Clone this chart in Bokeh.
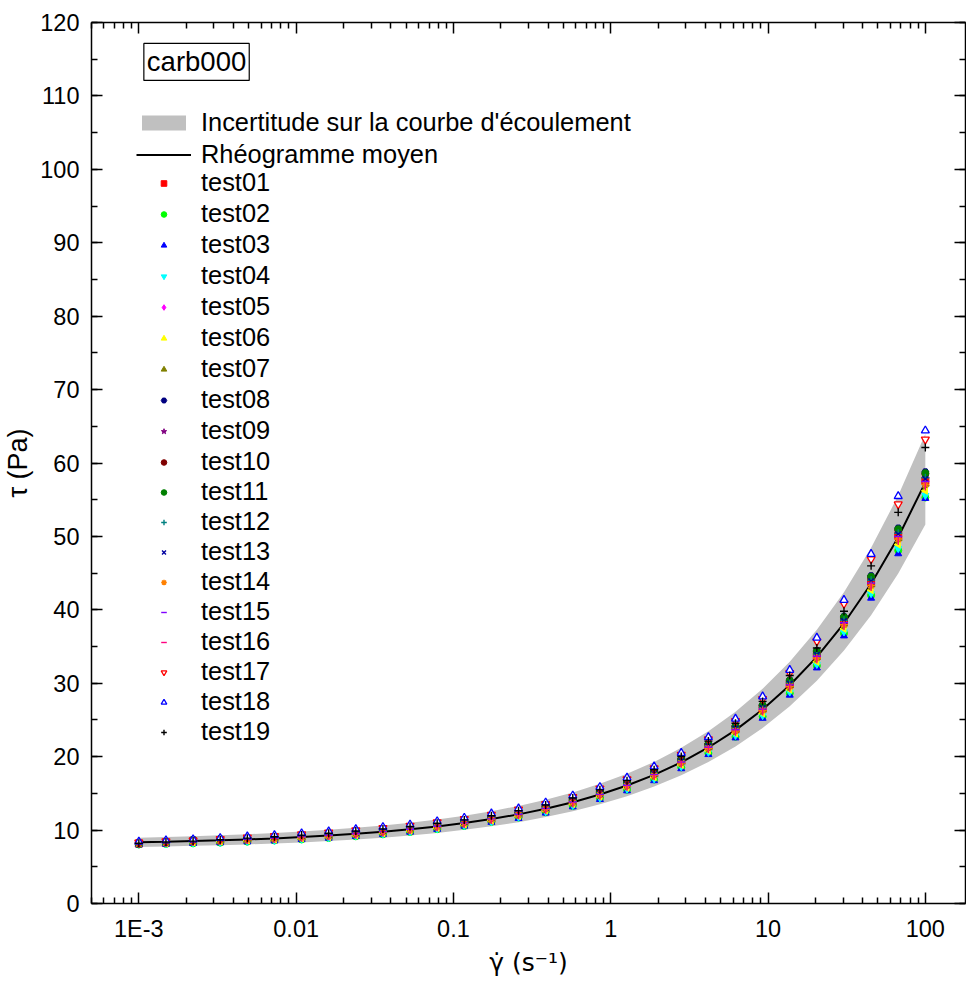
import math
from bokeh.plotting import figure
from bokeh.models import (Range1d, LinearAxis, LogAxis, FixedTicker, SingleIntervalTicker,
                          CustomJSTickFormatter, Legend, LegendItem, Label)
from bokeh.embed import file_html
from bokeh.resources import INLINE

# ---------------- data ----------------
shear_rate = [0.001, 0.001487, 0.002212, 0.00329, 0.004894, 0.007279, 0.01083, 0.0161, 0.02395,
              0.03562, 0.05298, 0.0788, 0.1172, 0.1743, 0.2593, 0.3857, 0.5736, 0.8532, 1.269,
              1.887, 2.807, 4.175, 6.21, 9.237, 13.74, 20.43, 30.39, 45.2, 67.23, 100.0]

mean_curve = [8.33, 8.41, 8.50, 8.60, 8.73, 8.87, 9.05, 9.25, 9.49, 9.77, 10.10, 10.50, 10.96, 11.50,
              12.14, 12.90, 13.79, 14.84, 16.07, 17.52, 19.23, 21.25, 23.62, 26.42, 29.72, 33.60,
              38.17, 43.55, 49.89, 57.36]
band_upper = [8.95, 9.05, 9.16, 9.28, 9.43, 9.60, 9.80, 10.03, 10.31, 10.62, 11.00, 11.45, 11.96, 12.57,
              13.29, 14.13, 15.13, 16.30, 17.67, 19.29, 21.20, 23.46, 26.11, 29.24, 32.93, 37.28,
              42.40, 48.44, 55.56, 63.96]
band_lower = [7.70, 7.77, 7.85, 7.93, 8.05, 8.17, 8.32, 8.50, 8.71, 8.96, 9.26, 9.61, 10.03, 10.51,
              11.08, 11.77, 12.57, 13.51, 14.62, 15.92, 17.46, 19.27, 21.40, 23.92, 26.88, 30.35,
              34.45, 39.27, 44.95, 51.62]

test01 = [8.16, 8.28, 8.47, 8.60, 8.75, 8.90, 9.08, 9.28, 9.53, 9.81, 10.14, 10.54, 11.00, 11.55, 12.19, 12.95, 13.85, 14.90, 16.13, 17.59, 19.31, 21.34, 23.71, 26.53, 29.84, 33.73, 38.32, 43.72, 50.09, 57.59]
test02 = [8.03, 8.11, 8.19, 8.29, 8.42, 8.58, 8.72, 8.92, 9.15, 9.42, 9.74, 10.12, 10.57, 11.12, 11.70, 12.44, 13.29, 14.31, 15.49, 16.89, 18.54, 20.48, 22.71, 25.47, 28.65, 32.39, 36.80, 41.98, 48.09, 55.30]
test03 = [8.01, 8.09, 8.18, 8.27, 8.40, 8.53, 8.71, 8.90, 9.13, 9.40, 9.72, 10.10, 10.54, 11.06, 11.59, 12.32, 13.17, 14.17, 15.35, 16.73, 18.36, 20.29, 22.56, 25.23, 28.38, 32.09, 36.45, 41.59, 47.64, 55.18]
test04 = [8.07, 8.15, 8.24, 8.33, 8.46, 8.60, 8.77, 8.96, 9.20, 9.47, 9.79, 10.17, 10.62, 11.14, 11.76, 12.50, 13.36, 14.38, 15.57, 16.98, 18.63, 20.59, 22.89, 25.60, 28.80, 32.56, 36.99, 42.20, 48.34, 55.58]
test05 = [8.23, 8.31, 8.40, 8.50, 8.63, 8.76, 8.94, 9.14, 9.38, 9.65, 9.98, 10.37, 10.83, 11.36, 11.99, 12.75, 13.62, 14.66, 15.88, 17.31, 19.00, 20.99, 23.34, 26.10, 29.36, 33.20, 37.71, 43.03, 49.29, 56.67]
test06 = [8.16, 8.24, 8.33, 8.43, 8.56, 8.69, 8.87, 9.06, 9.30, 9.57, 9.90, 10.29, 10.74, 11.27, 11.90, 12.64, 13.51, 14.54, 15.75, 17.17, 18.85, 20.82, 23.15, 25.89, 29.13, 32.93, 37.41, 42.68, 48.89, 56.21]
test07 = [8.26, 8.34, 8.43, 8.53, 8.66, 8.80, 8.98, 9.18, 9.41, 9.69, 10.02, 10.42, 10.87, 11.41, 12.04, 12.80, 13.68, 14.72, 15.94, 17.38, 19.08, 21.08, 23.43, 26.21, 29.48, 33.33, 37.86, 43.20, 49.49, 56.90]
test08 = [8.25, 8.33, 8.71, 8.82, 8.95, 9.09, 9.28, 9.48, 9.73, 10.01, 10.35, 10.76, 11.23, 11.79, 12.44, 13.22, 14.13, 15.21, 16.47, 17.96, 19.71, 21.78, 24.21, 27.08, 30.46, 34.44, 39.12, 44.64, 51.14, 58.79]
test09 = [8.20, 8.36, 8.49, 8.59, 8.72, 8.86, 9.04, 9.24, 9.48, 9.76, 10.09, 10.49, 10.95, 11.49, 12.13, 12.89, 13.78, 14.82, 16.05, 17.50, 19.21, 21.23, 23.60, 26.39, 29.69, 33.57, 38.13, 43.51, 49.84, 57.30]
test10 = [8.30, 8.45, 8.67, 8.77, 8.90, 9.05, 9.23, 9.44, 9.68, 9.97, 10.30, 10.71, 11.18, 11.73, 12.38, 13.16, 14.07, 15.14, 16.39, 17.87, 19.61, 21.68, 24.09, 26.95, 30.31, 34.27, 38.93, 44.42, 50.89, 58.51]
test11 = [8.12, 8.30, 8.69, 8.79, 8.92, 9.07, 9.25, 9.45, 9.70, 9.98, 10.32, 10.73, 11.20, 11.75, 12.41, 13.18, 14.09, 15.17, 16.42, 17.91, 19.65, 21.72, 24.14, 27.00, 30.37, 34.34, 39.01, 44.51, 50.99, 58.62]
test12 = [8.18, 8.37, 8.59, 8.69, 8.83, 8.97, 9.15, 9.35, 9.59, 9.88, 10.21, 10.62, 11.08, 11.63, 12.27, 13.04, 13.94, 15.00, 16.25, 17.71, 19.44, 21.48, 23.88, 26.71, 30.05, 33.97, 38.59, 44.03, 50.44, 57.99]
test13 = [8.05, 8.22, 8.57, 8.67, 8.80, 8.94, 9.12, 9.32, 9.57, 9.85, 10.18, 10.58, 11.05, 11.59, 12.24, 13.00, 13.90, 14.96, 16.20, 17.66, 19.38, 21.42, 23.81, 26.63, 29.96, 33.87, 38.48, 43.90, 50.29, 57.82]
test14 = [8.10, 8.26, 8.46, 8.56, 8.69, 8.83, 9.00, 9.20, 9.44, 9.72, 10.05, 10.45, 10.91, 11.44, 12.08, 12.84, 13.72, 14.77, 15.99, 17.43, 19.13, 21.14, 23.50, 26.29, 29.57, 33.43, 37.98, 43.33, 49.64, 57.07]
test15 = [8.28, 8.40, 8.52, 8.62, 8.75, 8.89, 9.07, 9.27, 9.51, 9.79, 10.12, 10.52, 10.98, 11.52, 12.16, 12.93, 13.82, 14.87, 16.10, 17.56, 19.27, 21.29, 23.67, 26.47, 29.78, 33.67, 38.25, 43.64, 49.99, 57.47]
test16 = [8.14, 8.29, 8.42, 8.51, 8.64, 8.78, 8.96, 9.16, 9.40, 9.67, 10.00, 10.40, 10.85, 11.39, 12.02, 12.77, 13.65, 14.69, 15.91, 17.35, 19.04, 21.04, 23.38, 26.16, 29.42, 33.26, 37.79, 43.11, 49.39, 56.79]
test17 = [8.31, 8.47, 8.60, 8.79, 9.01, 9.20, 9.43, 9.68, 9.98, 10.28, 10.61, 11.06, 11.52, 12.10, 12.80, 13.57, 14.52, 15.66, 16.92, 18.43, 20.25, 22.38, 24.85, 27.85, 31.41, 35.72, 40.84, 46.90, 54.38, 63.21]
test18 = [8.41, 8.58, 8.71, 8.90, 9.12, 9.31, 9.55, 9.81, 10.11, 10.41, 10.74, 11.19, 11.66, 12.25, 12.95, 13.74, 14.70, 15.85, 17.13, 18.66, 20.50, 22.65, 25.16, 28.19, 31.80, 36.19, 41.34, 47.60, 55.48, 64.41]
test19 = [8.20, 8.37, 8.50, 8.69, 8.90, 9.09, 9.32, 9.57, 9.87, 10.16, 10.48, 10.93, 11.39, 11.96, 12.65, 13.42, 14.36, 15.48, 16.73, 18.22, 20.02, 22.12, 24.56, 27.53, 31.06, 34.81, 39.81, 45.99, 53.28, 62.12]

test_names = ["test%02d" % k for k in range(1, 20)]
test_values = [test01, test02, test03, test04, test05, test06, test07, test08, test09, test10,
               test11, test12, test13, test14, test15, test16, test17, test18, test19]

x_tick_values = [0.001, 0.01, 0.1, 1, 10, 100]
x_tick_labels = ["1E-3", "0.01", "0.1", "1", "10", "100"]
x_minor_ticks = [m * 10.0 ** e for e in range(-4, 2) for m in range(2, 10) if 5e-4 <= m * 10.0 ** e <= 180]

# ---------------- styles ----------------
# (marker, color, fill mode, angle)
styles = [
    ("square", "#FF0000", "fill", 0),
    ("circle", "#00FF00", "fill", 0),
    ("triangle", "#0000FF", "fill", 0),
    ("inverted_triangle", "#00FFFF", "fill", 0),
    ("diamond", "#FF00FF", "fill", 0),
    ("triangle", "#FFFF00", "fill", math.pi / 2),
    ("triangle", "#808000", "fill", -math.pi / 2),
    ("hex", "#000080", "fill", 0),
    ("star", "#800080", "fill", 0),
    ("circle", "#800000", "fill", 0),
    ("circle", "#008000", "fill", 0),
    ("cross", "#008080", "line", 0),
    ("x", "#0000A0", "line", 0),
    ("asterisk", "#FF8000", "line", 0),
    ("dash", "#8000FF", "line", 0),
    ("dash", "#FF0080", "line", math.pi / 2),
    ("inverted_triangle", "#FF0000", "open", 0),
    ("triangle", "#0000FF", "open", 0),
    ("cross", "#000000", "line", 0),
]

FONT = "Liberation Sans"

p = figure(width=966, height=981, x_axis_type="log",
           x_range=Range1d(5e-4, 180), y_range=Range1d(0, 120),
           output_backend="svg", toolbar_location=None, tools="",
           min_border_left=90, min_border_right=1, min_border_top=22, min_border_bottom=78)
p.xgrid.visible = False
p.ygrid.visible = False
p.outline_line_color = None
p.background_fill_color = "white"
p.border_fill_color = "white"

band = p.varea(x=shear_rate, y1=band_lower, y2=band_upper, fill_color="#C0C0C0")
mean_line = p.line(shear_rate, mean_curve, line_color="black", line_width=2)

test_renderers = []
for name, vals, (mk, col, mode, ang) in zip(test_names, test_values, styles):
    if mode == "fill":
        r = p.scatter(shear_rate, vals, marker=mk, size=7, angle=ang,
                      fill_color=col, line_color=col, line_width=1)
    elif mode == "open":
        r = p.scatter(shear_rate, vals, marker=mk, size=8, angle=ang,
                      fill_color="white", line_color=col, line_width=1.3)
    else:
        r = p.scatter(shear_rate, vals, marker=mk, size=8, angle=ang,
                      line_color=col, line_width=1.4)
    test_renderers.append(r)


def style_axis(ax, labels=True):
    ax.axis_line_width = 1.5
    ax.axis_line_color = "black"
    ax.major_tick_in = 11
    ax.major_tick_out = 0
    ax.minor_tick_in = 6
    ax.minor_tick_out = 0
    ax.major_tick_line_width = 1.5
    ax.minor_tick_line_width = 1.5
    ax.major_tick_line_color = "black"
    ax.minor_tick_line_color = "black"
    if labels:
        ax.major_label_text_font = FONT
        ax.major_label_text_font_size = "23.5px"
        ax.major_label_text_color = "black"
        ax.major_label_standoff = 12
        ax.axis_label_text_font = FONT
        ax.axis_label_text_font_size = "27px"
        ax.axis_label_text_font_style = "normal"
        ax.axis_label_text_color = "black"
    else:
        ax.axis_label = None
        ax.major_label_text_font_size = "0px"
        ax.major_label_standoff = 0


x_ticker = FixedTicker(ticks=x_tick_values, minor_ticks=x_minor_ticks)
x_formatter = CustomJSTickFormatter(args=dict(vals=x_tick_values, labs=x_tick_labels), code="""
    for (let i = 0; i < vals.length; i++) {
        if (Math.abs(Math.log10(tick) - Math.log10(vals[i])) < 1e-6) { return labs[i]; }
    }
    return '';
""")
empty_formatter = CustomJSTickFormatter(code="return '';")

bx = p.xaxis[0]
bx.ticker = x_ticker
bx.formatter = x_formatter
style_axis(bx)
bx.axis_label = "γ\u0307 (s\u207b\u00b9)"
bx.axis_label_text_font = "DejaVu Sans"
bx.axis_label_text_font_size = "25px"
bx.axis_label_standoff = 3

ly = p.yaxis[0]
ly.ticker = SingleIntervalTicker(interval=10, num_minor_ticks=2)
style_axis(ly)
ly.axis_label = "τ (Pa)"
ly.axis_label_standoff = 4

top_ax = LogAxis(ticker=FixedTicker(ticks=x_tick_values, minor_ticks=x_minor_ticks), formatter=empty_formatter)
style_axis(top_ax, labels=False)
p.add_layout(top_ax, "above")

right_ax = LinearAxis(ticker=SingleIntervalTicker(interval=10, num_minor_ticks=2), formatter=empty_formatter)
style_axis(right_ax, labels=False)
p.add_layout(right_ax, "right")

# sample name box
p.add_layout(Label(x=0.001076, y=117.15, text="carb000", text_align="left", text_baseline="top",
                   text_font=FONT, text_font_size="27.5px", text_color="black",
                   border_line_color="black", border_line_width=1.2, padding=3,
                   background_fill_color="white"))

legend_common = dict(glyph_width=55, label_standoff=10, padding=0, margin=0,
                     border_line_color=None, background_fill_alpha=0,
                     label_text_font=FONT, label_text_font_size="25.4px", label_text_color="black")

leg1 = Legend(items=[LegendItem(label="Incertitude sur la courbe d'écoulement", renderers=[band]),
                     LegendItem(label="Rhéogramme moyen", renderers=[mean_line])],
              location=(45, 734), glyph_height=19, spacing=3, **legend_common)
leg2a = Legend(items=[LegendItem(label=n, renderers=[r])
                      for n, r in zip(test_names[:10], test_renderers[:10])],
               location=(45, 427), glyph_height=14, spacing=2, **legend_common)
leg2b = Legend(items=[LegendItem(label=n, renderers=[r])
                      for n, r in zip(test_names[10:], test_renderers[10:])],
               location=(45, 157), glyph_height=14, spacing=1, **legend_common)
p.add_layout(leg1)
p.add_layout(leg2a)
p.add_layout(leg2b)

open("out.html", "w").write(file_html(p, INLINE))
